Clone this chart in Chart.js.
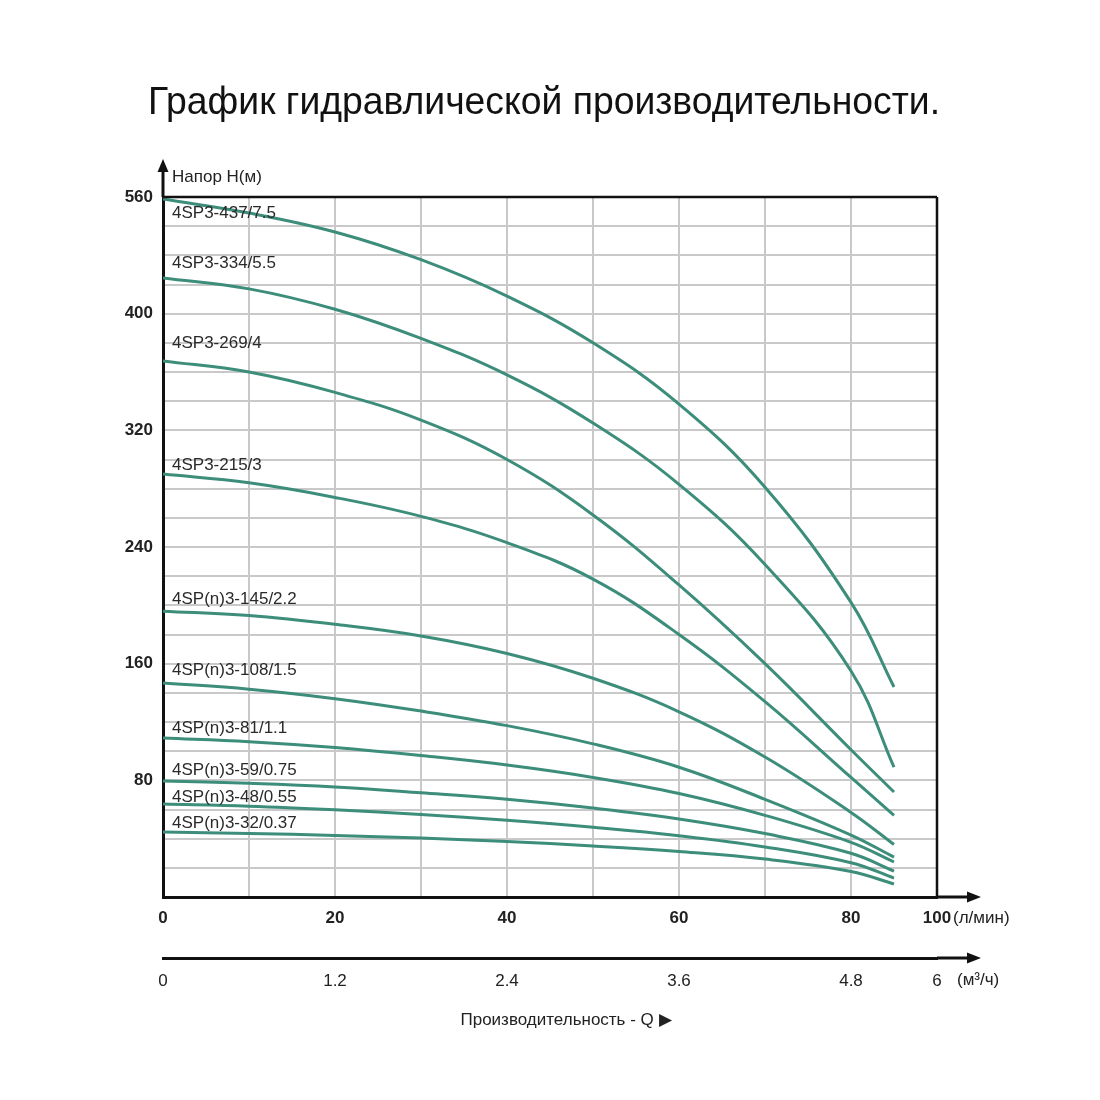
<!DOCTYPE html>
<html>
<head>
<meta charset="utf-8">
<script src="https://cdn.jsdelivr.net/npm/chart.js@4/dist/chart.umd.min.js"></script>
<style>
  html, body { margin: 0; padding: 0; background: #ffffff; }
  #wrap { width: 1100px; height: 1100px; position: relative; }
</style>
</head>
<body>
<div id="wrap"><canvas id="c"></canvas></div>
<script>
// ---------- data ----------
const flowLpm = [0, 10, 20, 30, 40, 50, 60, 70, 80, 85];
const models = [
  '4SP3-437/7.5', '4SP3-334/5.5', '4SP3-269/4', '4SP3-215/3',
  '4SP(n)3-145/2.2', '4SP(n)3-108/1.5', '4SP(n)3-81/1.1',
  '4SP(n)3-59/0.75', '4SP(n)3-48/0.55', '4SP(n)3-32/0.37'
];
const head437 = [478.6, 469, 456, 437, 412, 380, 338, 281, 202, 144];
const head334 = [424.5, 417, 403, 383, 358, 325, 283, 228, 155, 89];
const head269 = [367.6, 360, 346, 327, 300, 262, 214, 160, 101, 72];
const head215 = [290, 284, 274, 261, 243, 218, 180, 134, 82, 56];
const head145 = [196, 193, 187, 179, 167, 150, 127, 96, 58, 36];
const head108 = [146.8, 142.5, 136, 127.5, 117.5, 105, 89, 67, 42.5, 27.4];
const head81  = [109, 106.5, 102.5, 97, 90.5, 82, 71, 56, 37.5, 24];
const head59  = [79.6, 78, 75.5, 71.5, 67, 61, 53.5, 43.5, 30, 17.8];
const head48  = [63.8, 62.3, 59.8, 56.6, 52.6, 47.8, 42, 34.3, 23.5, 13];
const head32  = [44.6, 43.6, 42.2, 40.4, 38, 35, 31.2, 26, 17.5, 8.9];
const headSeries = [head437, head334, head269, head215, head145, head108, head81, head59, head48, head32];

const yTickValues = [80, 160, 240, 320, 400, 480];
const yTickText   = ['80', '160', '240', '320', '400', '560'];
const xTickValues = [0, 20, 40, 60, 80, 90];
const xTickText   = ['0', '20', '40', '60', '80', '100'];
const x2TickText  = ['0', '1.2', '2.4', '3.6', '4.8', '6'];

const titleText = 'График гидравлической производительности.';
const yAxisTitle = 'Напор Н(м)';
const xUnit = '(л/мин)';
const x2Unit = '(м³/ч)';
const xAxisTitle = 'Производительность - Q ▶';

// ---------- styles ----------
const curveColor = '#3d8d7b';
const gridColor = '#c9c9c9';
const axisColor = '#111111';
const textColor = '#222222';
const labelOffsetsPx = [14, -15, -18, -9, -12, -13, -10, -11, -7, -9];
const FONT = "'Liberation Sans', Arial, sans-serif";

function pick(values, texts, v) {
  for (let i = 0; i < values.length; i++) {
    if (Math.abs(values[i] - v) < 1e-6) return texts[i];
  }
  return '';
}

const datasets = headSeries.map((arr, i) => ({
  label: models[i],
  data: flowLpm.map((q, j) => ({ x: q, y: arr[j] })),
  borderColor: curveColor,
  borderWidth: 3,
  pointRadius: 0,
  fill: false,
  tension: 0.4,
  xAxisID: 'x',
  yAxisID: 'y'
}));

const decor = {
  id: 'decor',
  afterDraw(chart) {
    const ctx = chart.ctx;
    const a = chart.chartArea;
    const xs = chart.scales.x, ys = chart.scales.y, x2 = chart.scales.x2;
    ctx.save();

    // title (condensed to the reference width)
    ctx.font = '39px ' + FONT;
    ctx.fillStyle = '#111111';
    ctx.textBaseline = 'middle';
    ctx.textAlign = 'left';
    const tw = ctx.measureText(titleText).width;
    const targetW = 792;
    ctx.save();
    ctx.translate(148, 103);
    ctx.scale(targetW / tw, 1);
    ctx.fillText(titleText, 0, 0);
    ctx.restore();

    // top and right frame
    ctx.strokeStyle = axisColor;
    ctx.lineWidth = 2.5;
    ctx.beginPath();
    ctx.moveTo(a.left, a.top); ctx.lineTo(a.right, a.top);
    ctx.moveTo(a.right, a.top); ctx.lineTo(a.right, a.bottom);
    ctx.stroke();

    // arrows
    ctx.lineWidth = 3;
    ctx.fillStyle = axisColor;
    ctx.beginPath();
    ctx.moveTo(a.left, a.top); ctx.lineTo(a.left, a.top - 28);
    ctx.stroke();
    ctx.beginPath();
    ctx.moveTo(a.left, a.top - 38); ctx.lineTo(a.left - 5.5, a.top - 25); ctx.lineTo(a.left + 5.5, a.top - 25);
    ctx.closePath(); ctx.fill();
    const yb = a.bottom;
    ctx.beginPath();
    ctx.moveTo(a.right, yb); ctx.lineTo(a.right + 34, yb);
    ctx.stroke();
    ctx.beginPath();
    ctx.moveTo(a.right + 44, yb); ctx.lineTo(a.right + 30, yb - 5.5); ctx.lineTo(a.right + 30, yb + 5.5);
    ctx.closePath(); ctx.fill();
    const y2 = x2.top;
    ctx.beginPath();
    ctx.moveTo(a.right, y2); ctx.lineTo(a.right + 34, y2);
    ctx.stroke();
    ctx.beginPath();
    ctx.moveTo(a.right + 44, y2); ctx.lineTo(a.right + 30, y2 - 5.5); ctx.lineTo(a.right + 30, y2 + 5.5);
    ctx.closePath(); ctx.fill();

    // texts
    ctx.fillStyle = textColor;
    ctx.font = '17px ' + FONT;
    ctx.textBaseline = 'middle';
    ctx.textAlign = 'left';
    ctx.fillText(yAxisTitle, a.left + 9, a.top - 20);
    ctx.fillText(xUnit, a.right + 16, yb + 21);
    ctx.fillText(x2Unit, a.right + 20, y2 + 22);
    ctx.textAlign = 'center';
    ctx.fillText(xAxisTitle, (a.left + a.right) / 2 + 16, y2 + 62);

    // curve labels
    ctx.textAlign = 'left';
    ctx.fillStyle = '#2a2a2a';
    chart.data.datasets.forEach((ds, i) => {
      const py = ys.getPixelForValue(ds.data[0].y) + labelOffsetsPx[i];
      ctx.fillText(ds.label, xs.getPixelForValue(0) + 9, py);
    });
    ctx.restore();
  }
};

new Chart(document.getElementById('c'), {
  type: 'line',
  data: { datasets },
  plugins: [decor],
  options: {
    responsive: true,
    maintainAspectRatio: false,
    animation: false,
    layout: { padding: { left: 0, right: 163, top: 197, bottom: 102 } },
    plugins: {
      legend: { display: false },
      tooltip: { enabled: false },
      title: { display: false }
    },
    scales: {
      x: {
        type: 'linear', position: 'bottom', weight: 0,
        min: 0, max: 90,
        grid: { color: gridColor, lineWidth: 2, drawTicks: false },
        border: { display: true, color: axisColor, width: 3 },
        ticks: {
          stepSize: 10, autoSkip: false, maxRotation: 0, padding: 11,
          color: textColor, font: { family: FONT, size: 17, weight: 'bold' },
          callback: (v) => pick(xTickValues, xTickText, v)
        },
        afterFit: (s) => { s.height = 61; }
      },
      x2: {
        type: 'linear', position: 'bottom', weight: 1,
        min: 0, max: 90,
        grid: { display: false, drawTicks: false },
        border: { display: true, color: axisColor, width: 3 },
        ticks: {
          stepSize: 10, autoSkip: false, maxRotation: 0, padding: 13,
          color: textColor, font: { family: FONT, size: 17 },
          callback: (v) => pick(xTickValues, x2TickText, v)
        },
        afterFit: (s) => { s.height = 40; }
      },
      y: {
        type: 'linear', position: 'left',
        min: 0, max: 480,
        grid: { color: gridColor, lineWidth: 2, drawTicks: false },
        border: { display: true, color: axisColor, width: 3 },
        ticks: {
          stepSize: 20, autoSkip: false, padding: 10,
          color: textColor, font: { family: FONT, size: 17, weight: 'bold' },
          callback: (v) => pick(yTickValues, yTickText, v)
        },
        afterFit: (s) => { s.width = 163; }
      }
    }
  }
});
</script>
</body>
</html>
